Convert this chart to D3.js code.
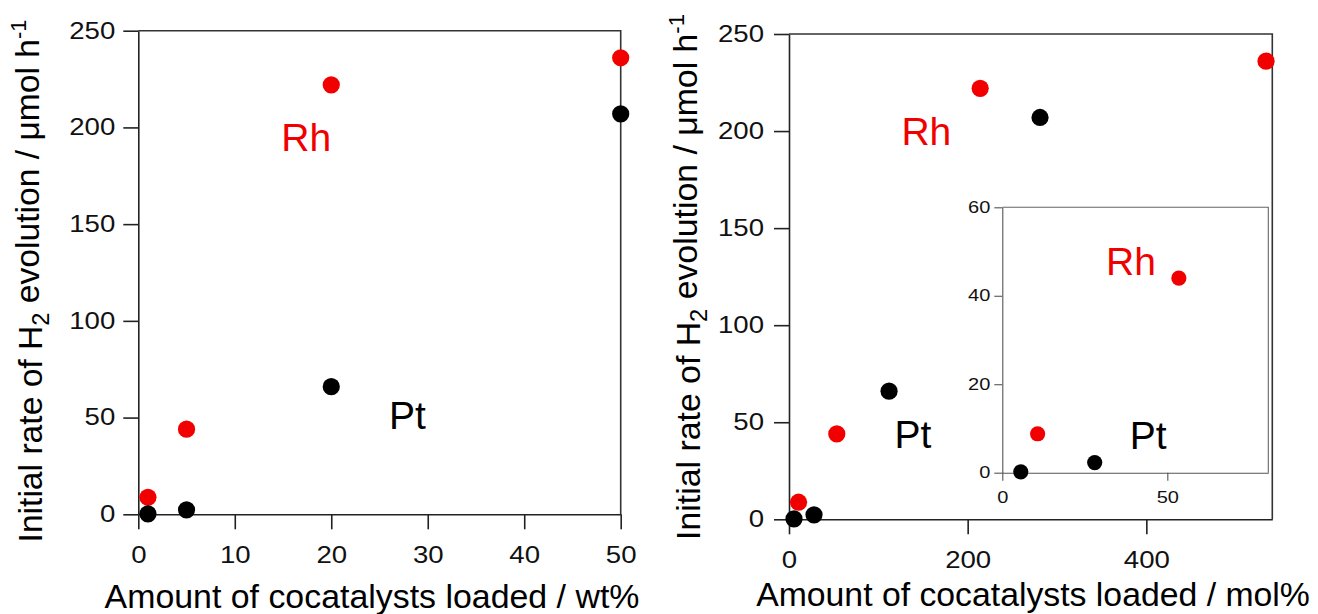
<!DOCTYPE html>
<html>
<head>
<meta charset="utf-8">
<script src="https://cdn.jsdelivr.net/npm/d3@7"></script>
<style>
  body { margin: 0; background: #fff; }
  svg { display: block; }
  text { font-family: "Liberation Sans", Arial, Helvetica, sans-serif; }
</style>
</head>
<body>
<svg id="chart" width="1318" height="614"></svg>
<script>
// Cocatalyst loading in wt%
const loadingWt = [1, 5, 20, 50];
// Same loadings expressed in mol%
const loadingMolPt = [5.6, 28, 112, 281];
const loadingMolRh = [10.7, 53.5, 214, 534];
// Initial rate of H2 evolution, µmol h-1
const ratePt = [0.2, 2.3, 66, 207];
const rateRh = [8.8, 44, 222, 236];

// Axis ticks
const wtTicks = [0, 10, 20, 30, 40, 50];
const rateTicks = [0, 50, 100, 150, 200, 250];
const molTicks = [0, 200, 400];
const insetMolTicks = [0, 50];
const insetRateTicks = [0, 20, 40, 60];

const RED = "#f20000";
const BLACK = "#000";

const svg = d3.select("#chart");

function drawAxes(g, x, y, o) {
  const [x0, x1] = x.range();
  const [y0, y1] = y.range();
  // top and right frame
  g.append("path")
    .attr("d", `M${x0},${y1}H${x1}V${y0}`)
    .attr("fill", "none")
    .attr("stroke", o.frame)
    .attr("stroke-width", o.sw);

  const xa = g.append("g")
    .attr("transform", `translate(0,${y0})`)
    .call(d3.axisBottom(x).tickValues(o.xTicks).tickSize(o.tick).tickSizeOuter(0).tickPadding(o.padX));
  const ya = g.append("g")
    .attr("transform", `translate(${x0},0)`)
    .call(d3.axisLeft(y).tickValues(o.yTicks).tickSize(o.tick).tickSizeOuter(0).tickPadding(o.padY));

  [xa, ya].forEach(a => {
    a.attr("font-family", null).attr("font-size", null);
    a.select(".domain").attr("stroke", o.axis).attr("stroke-width", o.sw);
    a.selectAll(".tick line").attr("stroke", o.axis).attr("stroke-width", o.sw);
    a.selectAll(".tick text").attr("fill", "#111").style("font-size", o.font + "px");
  });
  // tick labels are drawn slightly wide
  xa.selectAll(".tick text").attr("transform", `scale(${o.stretch},1)`);
  ya.selectAll(".tick text").each(function () {
    const t = d3.select(this);
    const xx = +t.attr("x");
    t.attr("x", 0).attr("transform", `translate(${xx},0) scale(${o.stretch},1)`);
  });
}

function drawDots(g, x, y, xs, ys, color, r) {
  g.append("g").selectAll("circle")
    .data(xs.map((v, i) => [v, ys[i]]))
    .join("circle")
    .attr("cx", d => x(d[0]))
    .attr("cy", d => y(d[1]))
    .attr("r", r)
    .attr("fill", color);
}

function label(g, px, py, txt, color, size) {
  g.append("text")
    .attr("x", px).attr("y", py)
    .attr("text-anchor", "middle")
    .attr("fill", color)
    .style("font-size", size + "px")
    .text(txt);
}

function xTitle(g, cx, by, txt, width) {
  const t = g.append("text")
    .attr("text-anchor", "middle")
    .attr("fill", "#000")
    .style("font-size", "34px")
    .text(txt);
  const w = t.node().getComputedTextLength();
  t.attr("transform", `translate(${cx},${by}) scale(${width / w},1)`);
}

function yTitle(g, bx, cy, length) {
  const t = g.append("text")
    .attr("text-anchor", "middle")
    .attr("fill", "#000")
    .style("font-size", "33px")
    .attr("transform", `translate(${bx},${cy}) rotate(-90)`);
  t.append("tspan").text("Initial rate of H");
  t.append("tspan").attr("dy", "0.28em").style("font-size", "70%").text("2");
  t.append("tspan").attr("dy", "-0.28em").text(" evolution / μmol h");
  t.append("tspan").attr("dy", "-0.62em").style("font-size", "65%").text("-1");
  const w = t.node().getComputedTextLength();
  t.style("font-size", (33 * length / w) + "px");
}

const mainStyle = { frame: "#333", axis: "#222", sw: 1.6, tick: 15, font: 23, stretch: 1.2, padX: 17 };

// ---- Left panel: wt% ----
{
  const g = svg.append("g");
  const x = d3.scaleLinear().domain([0, 50]).range([138.3, 620.7]);
  const y = d3.scaleLinear().domain([0, 250]).range([514.3, 30.7]);
  drawAxes(g, x, y, { ...mainStyle, xTicks: wtTicks, yTicks: rateTicks, padY: 8 });
  drawDots(g, x, y, loadingWt, rateRh, RED, 8.6);
  drawDots(g, x, y, loadingWt, ratePt, BLACK, 8.6);
  label(g, x(17.4), y(187.6), "Rh", RED, 39);
  label(g, x(27.9), y(43.9), "Pt", BLACK, 39);
  xTitle(g, 372, 608, "Amount of cocatalysts loaded / wt%", 535);
  yTitle(g, 42, 281, 523);
}

// ---- Right panel: mol% with low-loading inset ----
{
  const g = svg.append("g");
  const x = d3.scaleLinear().domain([0, 541]).range([789, 1272.3]);
  const y = d3.scaleLinear().domain([0, 250]).range([519.3, 34]);
  drawAxes(g, x, y, { ...mainStyle, xTicks: molTicks, yTicks: rateTicks, padY: 10 });
  drawDots(g, x, y, loadingMolRh, rateRh, RED, 8.6);
  drawDots(g, x, y, loadingMolPt, ratePt, BLACK, 8.6);
  label(g, x(153.8), y(192.8), "Rh", RED, 39);
  label(g, x(138.8), y(36.5), "Pt", BLACK, 39);
  xTitle(g, 1033, 606, "Amount of cocatalysts loaded / mol%", 554);
  yTitle(g, 700, 277, 526);

  // inset: first part of the mol% range
  const gi = svg.append("g");
  const xi = d3.scaleLinear().domain([0, 80.6]).range([1002.3, 1268.3]);
  const yi = d3.scaleLinear().domain([0, 60]).range([472.7, 207.3]);
  gi.append("rect")
    .attr("x", xi.range()[0]).attr("y", yi.range()[1])
    .attr("width", xi.range()[1] - xi.range()[0])
    .attr("height", yi.range()[0] - yi.range()[1])
    .attr("fill", "#fff");
  drawAxes(gi, xi, yi, {
    frame: "#666", axis: "#555", sw: 1.1, tick: 8, font: 16, stretch: 1.25,
    padX: 11, padY: 4, xTicks: insetMolTicks, yTicks: insetRateTicks
  });
  const lowPt = loadingMolPt.filter(v => v <= 80.6);
  const lowRh = loadingMolRh.filter(v => v <= 80.6);
  drawDots(gi, xi, yi, lowRh, rateRh.slice(0, lowRh.length), RED, 7.6);
  drawDots(gi, xi, yi, lowPt, ratePt.slice(0, lowPt.length), BLACK, 7.6);
  label(gi, xi(39), yi(44.7), "Rh", RED, 39);
  label(gi, xi(44.2), yi(5.3), "Pt", BLACK, 39);
}
</script>
</body>
</html>
